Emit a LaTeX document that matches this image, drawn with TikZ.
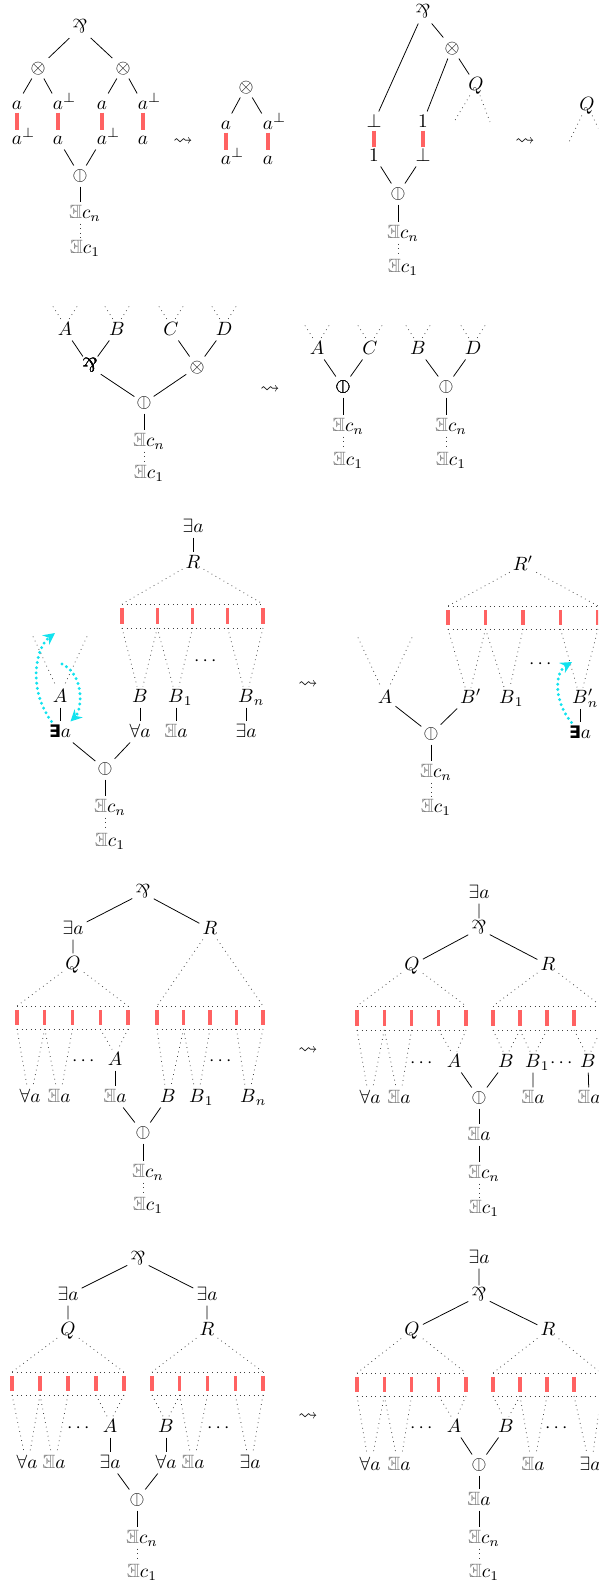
\documentclass[tikz,border=0pt]{standalone}
\usepackage{xcolor}
\usepackage{tikz}
\usepackage{amsmath}
\usepackage{amssymb}
\usepackage{fontspec}
\newfontfamily\dejavu{DejaVu Sans}
\definecolor{cutred}{HTML}{FF6262}
\definecolor{tipcyan}{HTML}{12E2EE}
\usetikzlibrary{arrows.meta, calc}

\newcommand{\parr}{\rotatebox[origin=c]{180}{\&}}
\newcommand{\cutop}{\rotatebox[origin=c]{90}{$\ominus$}}
\newcommand{\gex}{\textcolor{gray}{\reflectbox{$\mathbb{E}$}}}
\newcommand{\bex}{\text{\dejavu\bfseries\fontsize{9}{9}\selectfont ∃}}
% row of axiom links: name, left x, right x, top y, bottom y
\newcommand{\cutbox}[5]{%
  \foreach \i in {0,...,4}{
    \coordinate (#1-t\i) at ({#2+\i*(#3-#2)/4},#4);
    \coordinate (#1-b\i) at ({#2+\i*(#3-#2)/4},#5);
    \draw[axbar] ([yshift=-2pt]#1-t\i) -- ([yshift=2pt]#1-b\i);
  }
  \draw[dotl] (#1-t0) -- (#1-t4) (#1-b0) -- (#1-b4);
}
\newcommand{\dotv}[3]{\draw[dotl] (#1) -- ([xshift=-1.5pt]#3.north) (#2) -- ([xshift=1.5pt]#3.north);}
\newcommand{\opentop}[3]{\draw[dotl] ([shift={(-#2,-#3)}]#1.north) -- ([xshift=-2pt]#1.north) ([shift={(#2,-#3)}]#1.north) -- ([xshift=2pt]#1.north);}
% tail of existentials below a node: prefix, node, x, y of c_n, y of c_1
\newcommand{\cchain}[5]{%
  \node (#1cn) at (#3+5,#4) {$\gex c_n$};
  \node (#1c1) at (#3+5,#5) {$\gex c_1$};
  \draw (#2) -- (#2 |- #1cn.north);
  \draw[dotl] (#2 |- #1cn.south) -- (#2 |- #1c1.north);
}

\begin{document}
\begin{tikzpicture}[x=0.52pt, y=-0.52pt,
  every node/.style={inner sep=1.5pt, text height=1.5ex, text depth=.25ex},
  axbar/.style={cutred, line width=1.6pt},
  axlink/.style={axbar, shorten <=4.5pt, shorten >=4.5pt},
  dotl/.style={dotted, black!75},
  trace/.style={tipcyan, line width=1.7pt, dash pattern=on 0pt off 2.7pt, line cap=round, -{Stealth[length=6pt, width=6pt]}}]
\useasboundingbox (0,0) rectangle (598,1582);
\clip (0,0) rectangle (598,1582);

% tensor against par
\node (p1par) at (80,28) {\parr};
\node (p1tl) at (38,68) {$\otimes$};
\node (p1tr) at (123,68) {$\otimes$};
\node (p1a1) at (17,104) {$a$};
\node (p1a2) at (58,104) {$a\rlap{$^\bot$}$};
\node (p1a3) at (102,104) {$a$};
\node (p1a4) at (143,104) {$a\rlap{$^\bot$}$};
\node (p1b1) at (17,139) {$a\rlap{$^\bot$}$};
\node (p1b2) at (58,139) {$a$};
\node (p1b3) at (102,139) {$a\rlap{$^\bot$}$};
\node (p1b4) at (143,139) {$a$};
\node (p1cut) at (80,176) {\cutop};
\draw (p1par) -- (p1tl) (p1par) -- (p1tr);
\draw (p1tl) -- (p1a1) (p1tl) -- (p1a2) (p1tr) -- (p1a3) (p1tr) -- (p1a4);
\foreach \i in {1,...,4} \draw[axlink] (p1a\i.center) -- (p1b\i.center);
\draw (p1b2) -- (p1cut) (p1b3) -- (p1cut);
\cchain{p1}{p1cut}{80}{213}{248}
\node (p1to) at (183,140) {$\leadsto$};
\node (p1rt) at (246,87) {$\otimes$};
\node (p1ra) at (226,124) {$a$};
\node (p1rb) at (268,124) {$a\rlap{$^\bot$}$};
\node (p1rc) at (226,159) {$a\rlap{$^\bot$}$};
\node (p1rd) at (268,159) {$a$};
\draw (p1rt) -- (p1ra) (p1rt) -- (p1rb);
\draw[axlink] (p1ra.center) -- (p1rc.center);
\draw[axlink] (p1rb.center) -- (p1rd.center);

% units
\node (p2par) at (423,13) {\parr};
\node (p2ten) at (452,48) {$\otimes$};
\node (p2q) at (476,85) {$Q$};
\node (p2bot) at (374,122) {$\bot$};
\node (p2one) at (423,122) {$1$};
\node (p2onex) at (374,156) {$1$};
\node (p2botx) at (423,156) {$\bot$};
\coordinate (p2ql) at (454,122);
\coordinate (p2qr) at (490,122);
\node (p2cut) at (398,194) {\cutop};
\draw (p2par) -- (p2bot) (p2par) -- (p2ten) (p2ten) -- (p2one) (p2ten) -- (p2q);
\draw[dotl] (p2q) -- (p2ql) (p2q) -- (p2qr);
\draw[axlink] (p2bot.center) -- (p2onex.center);
\draw[axlink] (p2one.center) -- (p2botx.center);
\draw (p2onex) -- (p2cut) (p2botx) -- (p2cut);
\cchain{p2}{p2cut}{398}{233}{267}
\node (p2to) at (525,140) {$\leadsto$};
\node (p2qx) at (587,105) {$Q$};
\coordinate (p2qxl) at (569,142);
\coordinate (p2qxr) at (605,142);
\draw[dotl] (p2qx) -- (p2qxl) (p2qx) -- (p2qxr);

% commutation
\node (p3a) at (65,330) {$A$};
\node (p3b) at (117,330) {$B$};
\node (p3c) at (171,330) {$C$};
\node (p3d) at (224,330) {$D$};
\foreach \n in {p3a,p3b,p3c,p3d} \opentop{\n}{12}{13}
\node (p3par) at (90,367) {\parr};
\node (p3ten) at (197,367) {$\otimes$};
\node (p3cut) at (144,403) {\cutop};
\draw (p3a) -- (p3par) (p3b) -- (p3par) (p3c) -- (p3ten) (p3d) -- (p3ten);
\draw (p3par) -- (p3cut) (p3ten) -- (p3cut);
\cchain{p3}{p3cut}{144}{441}{473}
\node (p3to) at (270,388) {$\leadsto$};
\node (p3sa) at (317,349) {$A$};
\node (p3sc) at (370,349) {$C$};
\node (p3sb) at (418,349) {$B$};
\node (p3sd) at (473,349) {$D$};
\foreach \n in {p3sa,p3sb,p3sc,p3sd} \opentop{\n}{12}{13}
\node (p3scut) at (343,387) {\cutop};
\node (p3tcut) at (446,387) {\cutop};
\draw (p3sa) -- (p3scut) (p3sc) -- (p3scut) (p3sb) -- (p3tcut) (p3sd) -- (p3tcut);
\cchain{p3s}{p3scut}{343}{426}{460}
\cchain{p3t}{p3tcut}{446}{426}{460}

% existential against universal
\node (p4ea) at (193,527) {$\exists a$};
\node (p4r) at (193,563) {$R$};
\draw (p4ea) -- (p4r);
\cutbox{p4x}{122}{263}{604}{628}
\draw[dotl] (p4r) -- (p4x-t0) (p4r) -- (p4x-t4);
\node (p4a) at (60,697) {$A$};
\node (p4b) at (140,697) {$B$};
\node (p4bi) at (176,697) {$B\rlap{$_1$}$};
\node (p4dots) at (207,660) {$\cdots$};
\node (p4bn) at (246,697) {$B\rlap{$_n$}$};
\dotv{p4x-b0}{p4x-b1}{p4b}
\dotv{p4x-b1}{p4x-b2}{p4bi}
\dotv{p4x-b3}{p4x-b4}{p4bn}
\opentop{p4a}{27}{50}
\node (p4xa) at (60,732) {$\bex a$};
\node (p4fa) at (140,732) {$\forall a$};
\node (p4ga) at (176,732) {$\gex a$};
\node (p4eb) at (246,732) {$\exists a$};
\draw (p4a) -- (p4xa) (p4b) -- (p4fa) (p4bi) -- (p4ga) (p4bn) -- (p4eb);
\node (p4cut) at (105,769) {\cutop};
\draw (p4xa) -- (p4cut) (p4fa) -- (p4cut);
\cchain{p4}{p4cut}{105}{807}{841}
\coordinate (p4up) at (55,633);
\coordinate (p4dn) at (62,664);
\draw[trace] ([xshift=3pt]p4xa.north west) .. controls (28,690) and (35,648) .. (p4up);
\draw[trace] (p4dn) .. controls (85,675) and (82,710) .. ([xshift=-2pt]p4xa.north east);
\node (p4to) at (308,683) {$\leadsto$};
\node (p4rp) at (523,565) {$R'$};
\cutbox{p4y}{448}{598}{606}{629}
\draw[dotl] (p4rp) -- (p4y-t0) (p4rp) -- (p4y-t4);
\node (p4ay) at (385,698) {$A$};
\opentop{p4ay}{27}{50}
\node (p4by) at (468,698) {$B\rlap{$'$}$};
\node (p4byi) at (507,698) {$B\rlap{$_1$}$};
\node (p4dy) at (542,663) {$\cdots$};
\node (p4byn) at (580,698) {$B\rlap{$'_n$}$};
\dotv{p4y-b0}{p4y-b1}{p4by}
\dotv{p4y-b1}{p4y-b2}{p4byi}
\dotv{p4y-b3}{p4y-b4}{p4byn}
\node (p4yx) at (580,733) {$\bex a$};
\draw (p4byn) -- (p4yx);
\coordinate (p4yup) at (572,662);
\draw[trace] ([xshift=3pt]p4yx.north west) .. controls (553,700) and (555,672) .. (p4yup);
\node (p4ycut) at (431,734) {\cutop};
\draw (p4ay) -- (p4ycut) (p4by) -- (p4ycut);
\cchain{p4y}{p4ycut}{431}{772}{807}

% par against cut on A and B
\node (p5par) at (143,893) {\parr};
\node (p5ea) at (73,929) {$\exists a$};
\node (p5r) at (210,929) {$R$};
\node (p5q) at (73,964) {$Q$};
\draw (p5par) -- (p5ea) (p5par) -- (p5r) (p5ea) -- (p5q);
\cutbox{p5qx}{17}{128}{1006}{1029}
\cutbox{p5rx}{157}{263}{1006}{1029}
\draw[dotl] (p5q) -- (p5qx-t0) (p5q) -- (p5qx-t4) (p5r) -- (p5rx-t0) (p5r) -- (p5rx-t4);
\node (p5fa) at (30,1097) {$\forall a$};
\node (p5ga) at (59,1097) {$\gex a$};
\node (p5d1) at (85,1060) {$\cdots$};
\node (p5a) at (115,1060) {$A$};
\node (p5gb) at (115,1097) {$\gex a$};
\node (p5b) at (168,1097) {$B$};
\node (p5bi) at (197,1097) {$B\rlap{$_1$}$};
\node (p5d2) at (222,1060) {$\cdots$};
\node (p5bn) at (248,1097) {$B\rlap{$_n$}$};
\dotv{p5qx-b0}{p5qx-b1}{p5fa}
\dotv{p5qx-b1}{p5qx-b2}{p5ga}
\dotv{p5qx-b3}{p5qx-b4}{p5a}
\dotv{p5rx-b0}{p5rx-b1}{p5b}
\dotv{p5rx-b1}{p5rx-b2}{p5bi}
\dotv{p5rx-b3}{p5rx-b4}{p5bn}
\draw (p5a) -- (p5gb);
\node (p5cut) at (143,1133) {\cutop};
\draw (p5gb) -- (p5cut) (p5b) -- (p5cut);
\cchain{p5}{p5cut}{143}{1172}{1205}
\node (p5to) at (308,1049) {$\leadsto$};
\node (p5sea) at (479,893) {$\exists a$};
\node (p5spar) at (479,929) {\parr};
\node (p5sq) at (412,965) {$Q$};
\node (p5sr) at (548,965) {$R$};
\draw (p5sea) -- (p5spar) (p5spar) -- (p5sq) (p5spar) -- (p5sr);
\cutbox{p5sqx}{357}{466}{1006}{1030}
\cutbox{p5srx}{493}{601}{1006}{1030}
\draw[dotl] (p5sq) -- (p5sqx-t0) (p5sq) -- (p5sqx-t4) (p5sr) -- (p5srx-t0) (p5sr) -- (p5srx-t4);
\node (p5sfa) at (370,1098) {$\forall a$};
\node (p5sga) at (399,1098) {$\gex a$};
\node (p5sd1) at (423,1062) {$\cdots$};
\node (p5sa) at (454,1062) {$A$};
\node (p5sb) at (506,1062) {$B$};
\node (p5sbi) at (533,1062) {$B\rlap{$_1$}$};
\node (p5sd2) at (563,1062) {$\cdots$};
\node (p5sbn) at (588,1062) {$B$};
\node (p5sgb) at (533,1098) {$\gex a$};
\node (p5sgc) at (589,1098) {$\gex a$};
\dotv{p5sqx-b0}{p5sqx-b1}{p5sfa}
\dotv{p5sqx-b1}{p5sqx-b2}{p5sga}
\dotv{p5sqx-b3}{p5sqx-b4}{p5sa}
\dotv{p5srx-b0}{p5srx-b1}{p5sb}
\dotv{p5srx-b1}{p5srx-b2}{p5sbi}
\dotv{p5srx-b3}{p5srx-b4}{p5sbn}
\draw (p5sbi) -- (p5sgb) (p5sbn) -- (p5sgc);
\node (p5scut) at (479,1098) {\cutop};
\draw (p5sa) -- (p5scut) (p5sb) -- (p5scut);
\node (p5sgd) at (479,1135) {$\gex a$};
\draw (p5scut) -- (p5sgd);
\cchain{p5s}{p5sgd}{479}{1173}{1208}

% par against cut, both sides quantified
\node (p6par) at (138,1260) {\parr};
\node (p6ea) at (68,1295) {$\exists a$};
\node (p6eb) at (207,1295) {$\exists a$};
\node (p6q) at (68,1330) {$Q$};
\node (p6r) at (207,1330) {$R$};
\draw (p6par) -- (p6ea) (p6par) -- (p6eb) (p6ea) -- (p6q) (p6eb) -- (p6r);
\cutbox{p6qx}{12}{124}{1372}{1395}
\cutbox{p6rx}{152}{263}{1372}{1395}
\draw[dotl] (p6q) -- (p6qx-t0) (p6q) -- (p6qx-t4) (p6r) -- (p6rx-t0) (p6r) -- (p6rx-t4);
\node (p6fa) at (27,1463) {$\forall a$};
\node (p6ga) at (54,1463) {$\gex a$};
\node (p6d1) at (80,1427) {$\cdots$};
\node (p6a) at (110,1427) {$A$};
\node (p6xa) at (110,1463) {$\exists a$};
\node (p6b) at (166,1427) {$B$};
\node (p6fb) at (166,1463) {$\forall a$};
\node (p6gb) at (193,1463) {$\gex a$};
\node (p6d2) at (220,1427) {$\cdots$};
\node (p6xb) at (250,1463) {$\exists a$};
\dotv{p6qx-b0}{p6qx-b1}{p6fa}
\dotv{p6qx-b1}{p6qx-b2}{p6ga}
\dotv{p6qx-b3}{p6qx-b4}{p6a}
\dotv{p6rx-b0}{p6rx-b1}{p6b}
\dotv{p6rx-b1}{p6rx-b2}{p6gb}
\dotv{p6rx-b3}{p6rx-b4}{p6xb}
\draw (p6a) -- (p6xa) (p6b) -- (p6fb);
\node (p6cut) at (137,1500) {\cutop};
\draw (p6xa) -- (p6cut) (p6fb) -- (p6cut);
\cchain{p6}{p6cut}{137}{1538}{1572}
\node (p6to) at (308,1415) {$\leadsto$};
\node (p6sea) at (479,1258) {$\exists a$};
\node (p6spar) at (479,1296) {\parr};
\node (p6sq) at (412,1330) {$Q$};
\node (p6sr) at (548,1330) {$R$};
\draw (p6sea) -- (p6spar) (p6spar) -- (p6sq) (p6spar) -- (p6sr);
\cutbox{p6sqx}{357}{466}{1373}{1396}
\cutbox{p6srx}{493}{601}{1373}{1396}
\draw[dotl] (p6sq) -- (p6sqx-t0) (p6sq) -- (p6sqx-t4) (p6sr) -- (p6srx-t0) (p6sr) -- (p6srx-t4);
\node (p6sfa) at (370,1465) {$\forall a$};
\node (p6sga) at (399,1465) {$\gex a$};
\node (p6sd1) at (423,1427) {$\cdots$};
\node (p6sa) at (454,1427) {$A$};
\node (p6sb) at (506,1427) {$B$};
\node (p6sgb) at (533,1465) {$\gex a$};
\node (p6sd2) at (558,1427) {$\cdots$};
\node (p6sxb) at (590,1465) {$\exists a$};
\dotv{p6sqx-b0}{p6sqx-b1}{p6sfa}
\dotv{p6sqx-b1}{p6sqx-b2}{p6sga}
\dotv{p6sqx-b3}{p6sqx-b4}{p6sa}
\dotv{p6srx-b0}{p6srx-b1}{p6sb}
\dotv{p6srx-b1}{p6srx-b2}{p6sgb}
\dotv{p6srx-b3}{p6srx-b4}{p6sxb}
\node (p6scut) at (479,1465) {\cutop};
\draw (p6sa) -- (p6scut) (p6sb) -- (p6scut);
\node (p6sgd) at (479,1500) {$\gex a$};
\draw (p6scut) -- (p6sgd);
\cchain{p6s}{p6sgd}{479}{1538}{1572}
\end{tikzpicture}
\end{document}
